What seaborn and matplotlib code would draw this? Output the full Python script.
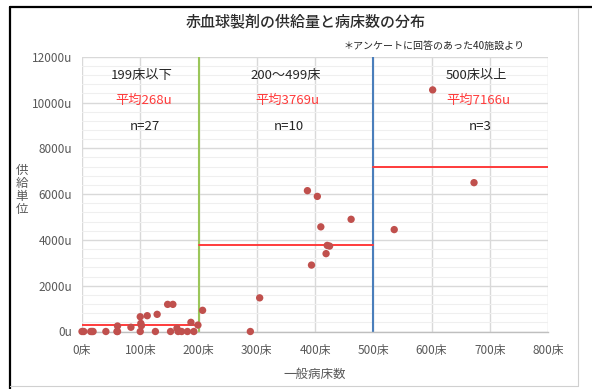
import numpy as np
import pandas as pd
import matplotlib
matplotlib.use("Agg")
import matplotlib.pyplot as plt
from matplotlib.lines import Line2D
from matplotlib.ticker import MultipleLocator
import seaborn as sns

# Data (beds, supply units)
beds_small = [0, 3, 15, 17, 19, 41, 60, 61, 61, 84, 100, 100, 101, 102, 112, 126,
              129, 147, 152, 156, 163, 165, 171, 181, 187, 192, 199]
units_small = [0, 0, 0, 0, 0, 0, 0, 0, 240, 185, 0, 645, 355, 255, 690, 0,
               750, 1185, 0, 1185, 140, 0, 0, 0, 400, 0, 280]
beds_mid = [207, 289, 305, 387, 394, 404, 410, 419, 421, 425, 462]
units_mid = [925, 0, 1470, 6150, 2900, 5900, 4570, 3400, 3760, 3730, 4900]
beds_large = [536, 602, 673]
units_large = [4450, 10550, 6500]

group_names = ["199床以下", "200～499床", "500床以上"]
group_means = [268, 3769, 7166]
group_counts = [27, 10, 3]
group_ranges = [(0, 200), (200, 500), (500, 800)]
group_label_x = [103, 350, 678]

x_ticks = [0, 100, 200, 300, 400, 500, 600, 700, 800]
y_ticks = [0, 2000, 4000, 6000, 8000, 10000, 12000]

df = pd.DataFrame({
    "beds": beds_small + beds_mid + beds_large,
    "units": units_small + units_mid + units_large,
})

sns.set_style("white")
plt.rcParams["font.family"] = ["Noto Sans CJK JP", "DejaVu Sans"]

fig = plt.figure(figsize=(5.92, 3.89), dpi=100)
ax = fig.add_axes([82 / 592, 1 - 331.5 / 389, (548 - 82) / 592, (331.5 - 56.7) / 389])

# grid
ax.yaxis.set_minor_locator(MultipleLocator(400))
ax.grid(which="minor", axis="y", color="#efefef", lw=0.8)
ax.grid(which="major", axis="y", color="#d9d9d9", lw=1.0)
ax.grid(which="major", axis="x", color="#d9d9d9", lw=1.0)
ax.set_axisbelow(True)

# group dividers and means
ax.axvline(200, color="#9bc65a", lw=1.5, zorder=2)
ax.axvline(500, color="#4a7ebb", lw=1.5, zorder=2)
for (x0, x1), m in zip(group_ranges, group_means):
    ax.plot([x0, x1], [m, m], color="#ff3b3b", lw=1.4, zorder=2)

sns.scatterplot(data=df, x="beds", y="units", ax=ax, color="#c0504d",
                s=28, edgecolor="none", zorder=3, clip_on=False)

for gx, name, m, n in zip(group_label_x, group_names, group_means, group_counts):
    ax.text(gx, 11180, name, ha="center", va="center", fontsize=9.5, color="#262626")
    ax.text(gx + 3, 10100, f"平均{m}u", ha="center", va="center", fontsize=9.5, color="#ff3b3b")
    ax.text(gx + 5, 8950, f"n={n}", ha="center", va="center", fontsize=9.5, color="#262626")

ax.set_xlim(0, 800)
ax.set_ylim(0, 12000)
ax.set_xticks(x_ticks)
ax.set_xticklabels([f"{v}床" for v in x_ticks])
ax.set_yticks(y_ticks)
ax.set_yticklabels([f"{v}u" for v in y_ticks])
ax.tick_params(axis="both", length=0, labelsize=8.5, labelcolor="#595959")
ax.tick_params(axis="x", pad=9)
ax.tick_params(axis="y", pad=7)
for side in ["top", "right", "left"]:
    ax.spines[side].set_visible(False)
ax.spines["bottom"].set_color("#bfbfbf")
ax.spines["bottom"].set_linewidth(1.0)
ax.set_xlabel("")
ax.set_ylabel("")

fig.text(315 / 592, 1 - 374 / 389, "一般病床数", ha="center", va="center",
         fontsize=9, color="#595959")
fig.text(22 / 592, 1 - 190 / 389, "供\n給\n単\n位", ha="center", va="center",
         fontsize=9, color="#595959", linespacing=1.0)
fig.text(306 / 592, 1 - 22 / 389, "赤血球製剤の供給量と病床数の分布", ha="center", va="center",
         fontsize=10.8, color="#2b2b2b", fontweight="medium")
fig.text(525 / 592, 1 - 46 / 389, "＊アンケートに回答のあった40施設より", ha="right", va="center",
         fontsize=7.2, color="#262626")

# outer frame of the pasted chart
fig.add_artist(Line2D([10 / 592, 10 / 592], [0, 1 - 7 / 389], color="black", lw=1.6))
fig.add_artist(Line2D([10 / 592, 1], [1 - 7 / 389, 1 - 7 / 389], color="black", lw=1.6))
fig.add_artist(Line2D([578 / 592, 578 / 592], [1 - 386 / 389, 1 - 8 / 389], color="#d0d0d0", lw=0.8))
fig.add_artist(Line2D([10 / 592, 578 / 592], [1 - 386 / 389, 1 - 386 / 389], color="#d0d0d0", lw=0.8))

fig.savefig("out.png", dpi=100)
